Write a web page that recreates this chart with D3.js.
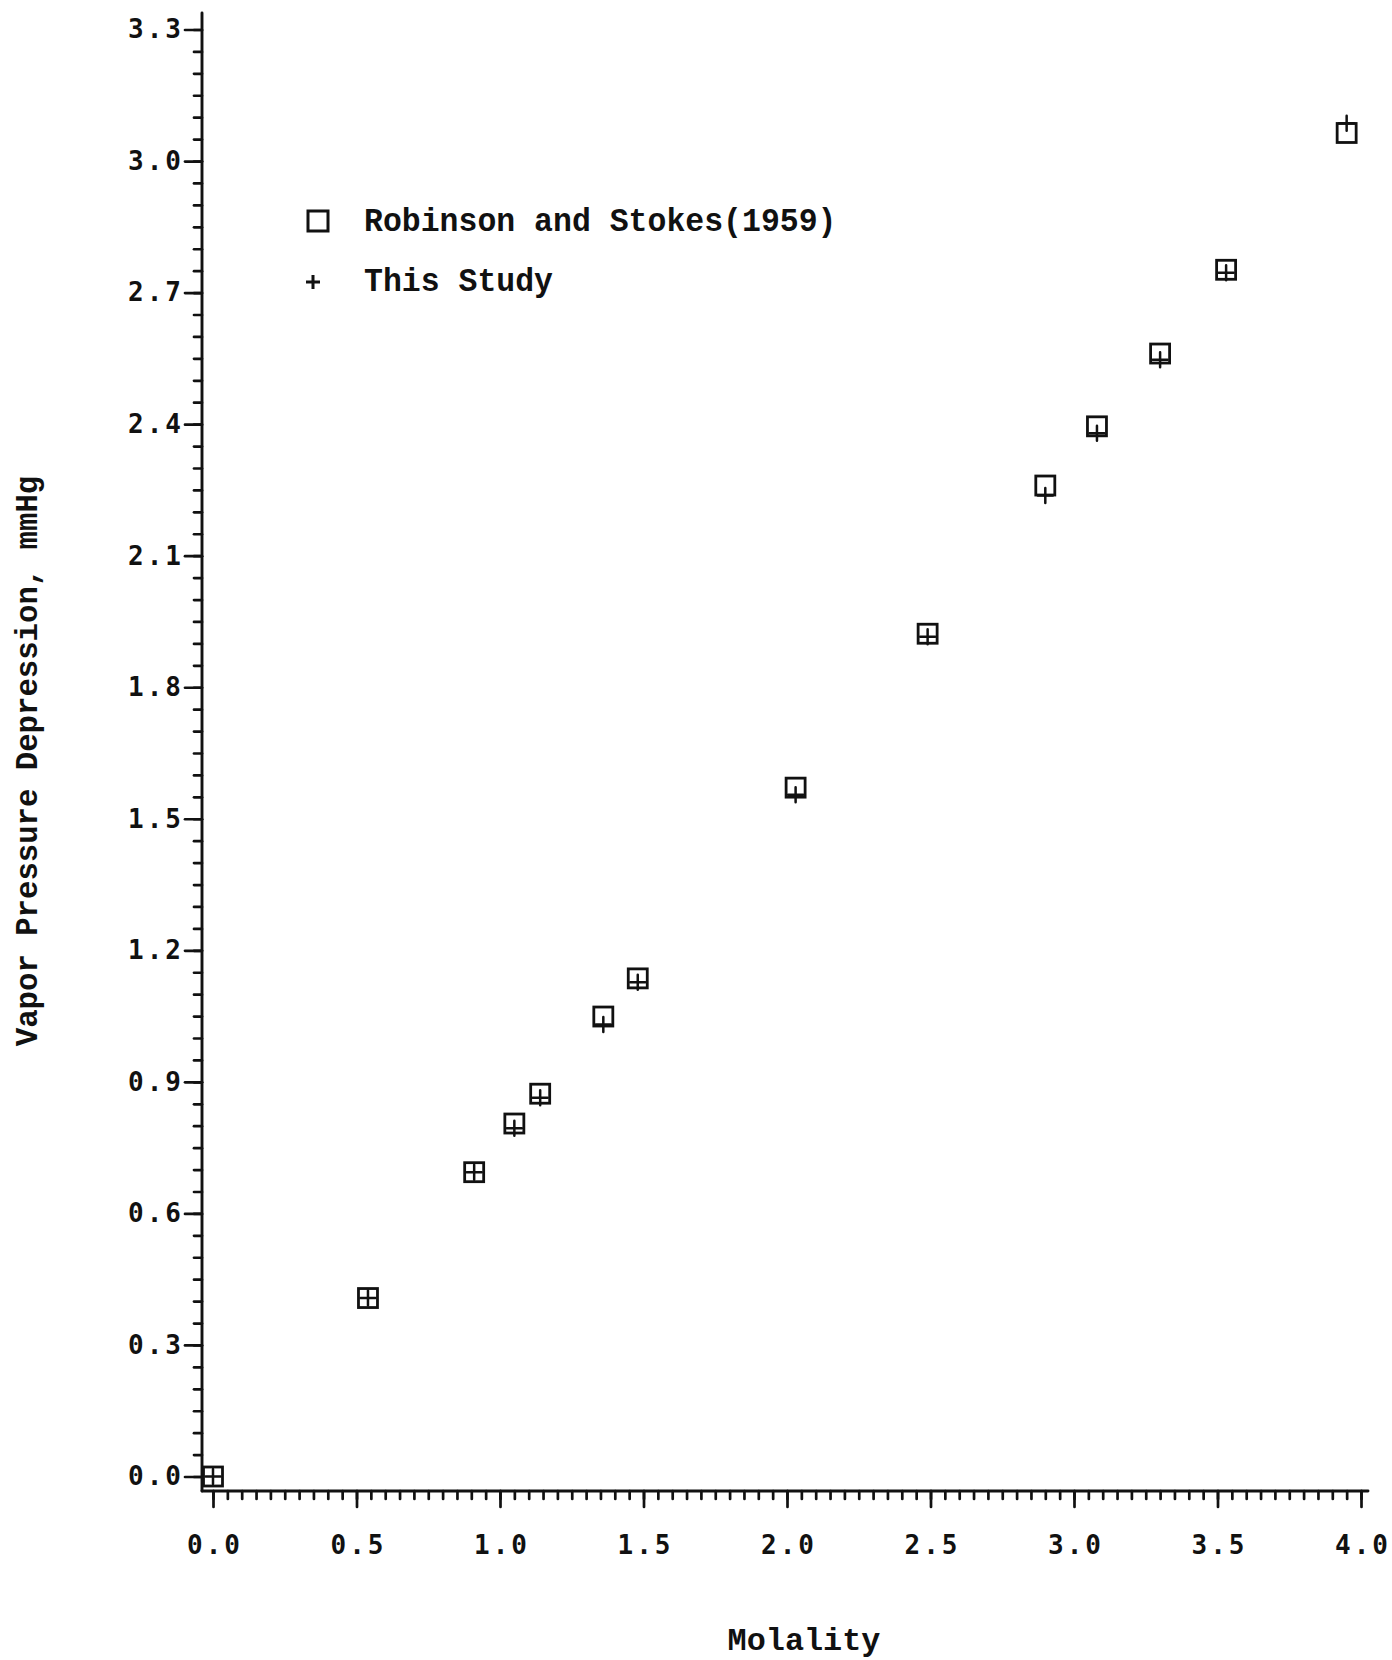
<!DOCTYPE html>
<html>
<head>
<meta charset="utf-8">
<script src="https://cdn.jsdelivr.net/npm/d3@7"></script>
<style>
  html, body { margin: 0; padding: 0; background: #fff; }
  svg { display: block; }
</style>
</head>
<body>
<svg id="chart" width="1392" height="1660"></svg>
<script>
// Vapor pressure depression vs. molality
const molality       = [0.00, 0.54, 0.91, 1.05, 1.14, 1.36, 1.48, 2.03, 2.49, 2.90, 3.08, 3.30, 3.53, 3.95];
const robinsonStokes = [0.000, 0.407, 0.694, 0.805, 0.873, 1.049, 1.136, 1.571, 1.922, 2.260, 2.395, 2.561, 2.752, 3.064];
const thisStudy      = [0.000, 0.407, 0.694, 0.794, 0.864, 1.031, 1.127, 1.555, 1.915, 2.237, 2.379, 2.547, 2.745, 3.086];

const xTickValues = [0.0, 0.5, 1.0, 1.5, 2.0, 2.5, 3.0, 3.5, 4.0];
const yTickValues = [0.0, 0.3, 0.6, 0.9, 1.2, 1.5, 1.8, 2.1, 2.4, 2.7, 3.0, 3.3];
const seriesNames = ["Robinson and Stokes(1959)", "This Study"];
const xTitle = "Molality";
const yTitle = "Vapor Pressure Depression, mmHg";

const svg = d3.select("#chart");
const ink = "#111";
const typeFont = "'Liberation Mono', 'Courier New', monospace";
const plotFont = "'DejaVu Sans Mono', monospace";

const x = d3.scaleLinear().domain([0, 4]).range([213, 1361]);
const y = d3.scaleLinear().domain([0, 3.3]).range([1476.5, 29.5]);
const axisX = 202;   // position of the vertical axis line
const axisY = 1491;  // position of the horizontal axis line

const xMinor = d3.range(0, 81).map(i => i * 0.05);
const yMinor = d3.range(0, 67).map(i => i * 0.05);

function styleAxis(g) {
  g.select(".domain").remove();
  g.selectAll(".tick line")
    .attr("stroke", ink).attr("stroke-width", 2.7).attr("stroke-linecap", "round");
  g.selectAll(".tick text")
    .attr("fill", ink)
    .style("font-family", plotFont)
    .style("font-size", "26px")
    .style("font-weight", "bold")
    .style("letter-spacing", "3px");
}

// ---- vertical axis ----
svg.append("g").attr("transform", `translate(${axisX},0)`)
  .call(d3.axisLeft(y).tickValues(yMinor).tickSize(8).tickFormat(""))
  .call(styleAxis);
svg.append("g").attr("transform", `translate(${axisX},0)`)
  .call(d3.axisLeft(y).tickValues(yTickValues).tickSize(17).tickPadding(1).tickFormat(d3.format(".1f")))
  .call(styleAxis);

// ---- horizontal axis ----
svg.append("g").attr("transform", `translate(0,${axisY})`)
  .call(d3.axisBottom(x).tickValues(xMinor).tickSize(8).tickFormat(""))
  .call(styleAxis);
const gx = svg.append("g").attr("transform", `translate(0,${axisY})`)
  .call(d3.axisBottom(x).tickValues(xTickValues).tickSize(16).tickFormat(d3.format(".1f")))
  .call(styleAxis);
gx.selectAll(".tick text").attr("y", 63).attr("dy", 0).attr("dx", 1.5);

// axis lines
svg.append("line")
  .attr("x1", axisX).attr("x2", axisX).attr("y1", 13).attr("y2", axisY)
  .attr("stroke", ink).attr("stroke-width", 2.9).attr("stroke-linecap", "round");
svg.append("line")
  .attr("x1", axisX).attr("x2", 1368).attr("y1", axisY).attr("y2", axisY)
  .attr("stroke", ink).attr("stroke-width", 2.9).attr("stroke-linecap", "round");

// ---- markers ----
const box = 19, plus = 15;
const rows = molality.map((m, i) => ({ m, rs: robinsonStokes[i], ts: thisStudy[i] }));

svg.append("g").selectAll("rect").data(rows).join("rect")
  .attr("x", d => x(d.m) - box / 2)
  .attr("y", d => y(d.rs) - box / 2)
  .attr("width", box).attr("height", box)
  .attr("fill", "none").attr("stroke", ink).attr("stroke-width", 2.8);

const plusPath = (cx, cy, s) =>
  `M${cx - s / 2},${cy}H${cx + s / 2}M${cx},${cy - s / 2}V${cy + s / 2}`;

svg.append("g").selectAll("path").data(rows).join("path")
  .attr("d", d => plusPath(x(d.m), y(d.ts), plus))
  .attr("fill", "none").attr("stroke", ink).attr("stroke-width", 2.5)
  .attr("stroke-linecap", "round");

// ---- legend ----
const legend = svg.append("g");
legend.append("rect")
  .attr("x", 318 - 10).attr("y", 221 - 10).attr("width", 20).attr("height", 20)
  .attr("fill", "none").attr("stroke", ink).attr("stroke-width", 3);
legend.append("path")
  .attr("d", plusPath(313, 282, 14))
  .attr("stroke", ink).attr("stroke-width", 3).attr("fill", "none");
legend.selectAll("text").data(seriesNames).join("text")
  .attr("x", 364)
  .attr("y", (d, i) => 231 + i * 60)
  .attr("textLength", d => d.length * 18.9)
  .attr("lengthAdjust", "spacingAndGlyphs")
  .attr("fill", ink)
  .style("font-family", typeFont)
  .style("font-size", "33px")
  .style("font-weight", "bold")
  .text(d => d);

// ---- axis titles ----
svg.append("text")
  .attr("x", 804).attr("y", 1650)
  .attr("text-anchor", "middle")
  .attr("textLength", xTitle.length * 19.1)
  .attr("lengthAdjust", "spacingAndGlyphs")
  .attr("fill", ink)
  .style("font-family", typeFont).style("font-size", "31px")
  .style("font-weight", "bold")
  .text(xTitle);

svg.append("text")
  .attr("transform", "translate(37,761) rotate(-90)")
  .attr("text-anchor", "middle")
  .attr("textLength", yTitle.length * 18.4)
  .attr("lengthAdjust", "spacingAndGlyphs")
  .attr("fill", ink)
  .style("font-family", typeFont).style("font-size", "31px")
  .style("font-weight", "bold")
  .text(yTitle);
</script>
</body>
</html>
